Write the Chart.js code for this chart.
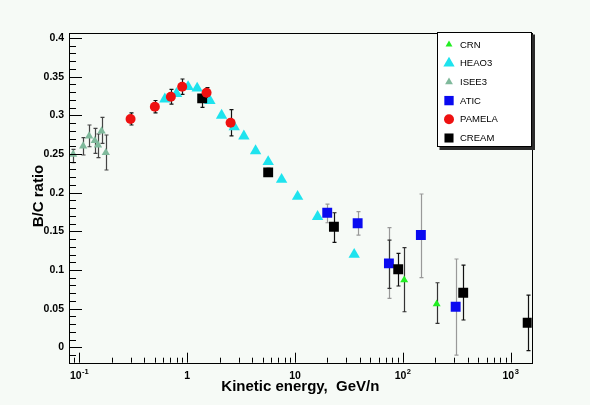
<!DOCTYPE html>
<html lang="en">
<head>
    <meta charset="UTF-8">
    <title>B/C ratio vs kinetic energy</title>
    <script src="https://cdn.jsdelivr.net/npm/chart.js"></script>
    <style>
        body { margin: 0; background: #f6faf6; }
        canvas { display: block; }
    </style>
</head>
<body>
    <canvas id="bcChart" width="590" height="405"></canvas>

    <script>
        // kinetic energy (GeV/n), B/C ratio, error bar low / high
        const crnE = [103, 206];
        const crnBC = [0.087, 0.056];
        const crnLo = [0.046, 0.031];
        const crnHi = [0.129, 0.0835];

        const heao3E = [0.621, 0.797, 1.02, 1.238, 1.624, 2.085, 2.73, 3.357, 4.31, 5.64, 7.51, 10.57, 16.2, 35.4];
        const heao3BC = [0.321, 0.328, 0.337, 0.335, 0.319, 0.300, 0.285, 0.273, 0.254, 0.240, 0.217, 0.195, 0.169, 0.120];

        const isee3E = [0.0876, 0.1085, 0.1233, 0.139, 0.149, 0.1607, 0.176];
        const isee3BC = [0.2496, 0.2603, 0.2732, 0.2672, 0.2616, 0.2797, 0.2517];
        const isee3Lo = [0.2387, 0.2487, 0.2594, 0.2509, 0.2452, 0.2638, 0.2293];
        const isee3Hi = [0.2561, 0.2711, 0.2875, 0.2832, 0.2759, 0.2975, 0.2746];

        const aticE = [19.9, 38.1, 74.3, 147, 309];
        const aticBC = [0.1741, 0.1604, 0.1086, 0.1453, 0.0525];
        const aticLo = [0.1611, 0.1452, 0.0634, 0.090, -0.010];
        const aticHi = [0.1853, 0.1754, 0.1547, 0.1983, 0.1142];
        const aticLo2 = [null, null, 0.0763, null, null];
        const aticHi2 = [null, null, 0.1387, null, null];

        const pamelaE = [0.2985, 0.5016, 0.706, 0.899, 1.513, 2.527];
        const pamelaBC = [0.2953, 0.3112, 0.3241, 0.337, 0.3293, 0.2905];
        const pamelaLo = [0.2875, 0.3032, 0.3146, 0.327, 0.3228, 0.2735];
        const pamelaHi = [0.3031, 0.3192, 0.3336, 0.347, 0.3358, 0.3075];

        const creamE = [1.378, 5.64, 22.96, 90.6, 363, 1438];
        const creamBC = [0.322, 0.2263, 0.156, 0.1009, 0.0706, 0.0318];
        const creamLo = [0.3104, 0.2213, 0.1358, 0.0793, 0.0353, -0.0044];
        const creamHi = [0.3263, 0.2313, 0.174, 0.1216, 0.1064, 0.0676];

        const yTicks = [0, 0.05, 0.1, 0.15, 0.2, 0.25, 0.3, 0.35, 0.4];
        const yTickLabels = ['0', '0.05', '0.1', '0.15', '0.2', '0.25', '0.3', '0.35', '0.4'];
        const xTicks = [0.1, 1, 10, 100, 1000];
        const xTickBase = ['10', '1', '10', '10', '10'];
        const xTickExp = ['-1', '', '', '2', '3'];

        const FONT = '"Liberation Sans", Arial, sans-serif';

        const series = [
            { label: 'CRN', e: crnE, v: crnBC, style: 'triangle', r: 4.6, color: '#22ee22', lr: 4, bars: [[crnLo, crnHi, '#333']], order: 4 },
            { label: 'HEAO3', e: heao3E, v: heao3BC, style: 'triangle', r: 6.6, color: '#1ee3ee', lr: 6.5, bars: [], order: 5 },
            { label: 'ISEE3', e: isee3E, v: isee3BC, style: 'triangle', r: 4.8, color: '#7fb99b', lr: 4.5, bars: [[isee3Lo, isee3Hi, '#444']], order: 6 },
            { label: 'ATIC', e: aticE, v: aticBC, style: 'rect', r: 7, color: '#0a0af0', lr: 6.6, bars: [[aticLo, aticHi, '#999'], [aticLo2, aticHi2, '#333']], order: 3 },
            { label: 'PAMELA', e: pamelaE, v: pamelaBC, style: 'circle', r: 5, color: '#ee1111', lr: 5, bars: [[pamelaLo, pamelaHi, '#111']], order: 1 },
            { label: 'CREAM', e: creamE, v: creamBC, style: 'rect', r: 7, color: '#000000', lr: 6.4, bars: [[creamLo, creamHi, '#111']], order: 2 }
        ];

        function marker(ctx, style, x, y, r, color) {
            ctx.fillStyle = color;
            ctx.beginPath();
            if (style === 'triangle') {
                for (let k = 0; k < 3; k++) {
                    const a = k * 2 * Math.PI / 3;
                    const px = x + Math.sin(a) * r, py = y - Math.cos(a) * r;
                    k ? ctx.lineTo(px, py) : ctx.moveTo(px, py);
                }
                ctx.closePath();
            } else if (style === 'rect') {
                const s = r * Math.SQRT1_2;
                ctx.rect(x - s, y - s, 2 * s, 2 * s);
            } else {
                ctx.arc(x, y, r, 0, 2 * Math.PI);
            }
            ctx.fill();
        }

        const decor = {
            id: 'decor',
            beforeDatasetsDraw(chart) {
                const { ctx, scales: { x, y } } = chart;
                ctx.save();
                ctx.lineWidth = 1.2;
                series.forEach(s => {
                    s.bars.forEach(([lo, hi, col]) => {
                        ctx.strokeStyle = col;
                        s.e.forEach((e, i) => {
                            if (lo[i] == null) return;
                            const px = Math.round(x.getPixelForValue(e)) + 0.5;
                            const y1 = y.getPixelForValue(lo[i]);
                            const y2 = y.getPixelForValue(hi[i]);
                            ctx.beginPath();
                            ctx.moveTo(px, y1); ctx.lineTo(px, y2);
                            ctx.moveTo(px - 2, y1); ctx.lineTo(px + 2, y1);
                            ctx.moveTo(px - 2, y2); ctx.lineTo(px + 2, y2);
                            ctx.stroke();
                        });
                    });
                });
                ctx.restore();
            },
            afterDraw(chart) {
                const { ctx, chartArea: a, scales: { x, y } } = chart;
                ctx.save();
                ctx.strokeStyle = '#000';
                ctx.lineWidth = 1;

                // frame
                ctx.strokeRect(Math.round(a.left) + 0.5, Math.round(a.top) + 0.5,
                    Math.round(a.right - a.left), Math.round(a.bottom - a.top));

                // y ticks (inside)
                ctx.beginPath();
                for (let k = -1; k <= 40; k++) {
                    const v = k / 100;
                    const py = Math.round(y.getPixelForValue(v)) + 0.5;
                    if (py < a.top || py > a.bottom) continue;
                    const len = k % 5 === 0 ? 13 : 7;
                    ctx.moveTo(a.left, py); ctx.lineTo(a.left + len, py);
                }
                // x ticks (inside, log)
                for (let d = -2; d <= 3; d++) {
                    for (let m = 1; m <= 9; m++) {
                        const v = m * Math.pow(10, d);
                        const px = Math.round(x.getPixelForValue(v)) + 0.5;
                        if (px < a.left + 1 || px > a.right - 1) continue;
                        const len = m === 1 ? 10 : 5;
                        ctx.moveTo(px, a.bottom); ctx.lineTo(px, a.bottom - len);
                    }
                }
                ctx.stroke();

                // x tick labels
                ctx.fillStyle = '#000';
                ctx.textBaseline = 'alphabetic';
                ctx.textAlign = 'left';
                xTicks.forEach((v, i) => {
                    const px = x.getPixelForValue(v);
                    ctx.font = 'bold 10.5px ' + FONT;
                    const wb = ctx.measureText(xTickBase[i]).width;
                    ctx.font = 'bold 7.5px ' + FONT;
                    const we = xTickExp[i] ? ctx.measureText(xTickExp[i]).width + 0.5 : 0;
                    const x0 = px - (wb + we) / 2;
                    ctx.font = 'bold 10.5px ' + FONT;
                    ctx.fillText(xTickBase[i], x0, 379);
                    if (xTickExp[i]) {
                        ctx.font = 'bold 7.5px ' + FONT;
                        ctx.fillText(xTickExp[i], x0 + wb + 0.5, 374);
                    }
                });

                // axis titles
                ctx.font = 'bold 15px ' + FONT;
                ctx.textAlign = 'center';
                ctx.fillText('Kinetic energy,  GeV/n', (a.left + a.right) / 2, 391);
                ctx.save();
                ctx.translate(42.5, 196);
                ctx.rotate(-Math.PI / 2);
                ctx.fillText('B/C ratio', 0, 0);
                ctx.restore();

                // legend box
                const lx = 437.5, ly = 32.5, lw = 94, lh = 114;
                ctx.fillStyle = '#2a2a2a';
                ctx.fillRect(lx + 2, ly + 2, lw + 1.5, lh + 1.5);
                ctx.fillStyle = '#ffffff';
                ctx.fillRect(lx, ly, lw, lh);
                ctx.strokeRect(lx, ly, lw, lh);
                ctx.font = '9.5px ' + FONT;
                ctx.textAlign = 'left';
                ctx.textBaseline = 'middle';
                series.forEach((s, i) => {
                    const cy = 44.5 + i * 18.7;
                    marker(ctx, s.style, 449, cy, s.lr, s.color);
                    ctx.fillStyle = '#000';
                    ctx.fillText(s.label, 460, cy + 0.5);
                });
                ctx.restore();
            }
        };

        const ctx = document.getElementById('bcChart').getContext('2d');

        const chart = new Chart(ctx, {
            type: 'scatter',
            data: {
                datasets: series.map(s => ({
                    label: s.label,
                    data: s.e.map((e, i) => ({ x: e, y: s.v[i] })),
                    pointStyle: s.style,
                    pointRadius: s.r,
                    pointBackgroundColor: s.color,
                    pointBorderColor: s.color,
                    pointBorderWidth: 0,
                    showLine: false,
                    order: s.order
                }))
            },
            options: {
                responsive: false,
                animation: false,
                devicePixelRatio: 1,
                layout: { padding: { left: 0, top: 33, right: 58.3, bottom: 0 } },
                plugins: {
                    legend: { display: false },
                    tooltip: { enabled: false }
                },
                scales: {
                    x: {
                        type: 'logarithmic',
                        min: 0.0802,
                        max: 1567,
                        grid: { display: false, drawTicks: false },
                        border: { display: false },
                        ticks: { display: false },
                        afterFit: s => { s.height = 42.3; }
                    },
                    y: {
                        min: -0.0199,
                        max: 0.4065,
                        grid: { display: false, drawTicks: false },
                        border: { display: false },
                        afterBuildTicks: s => { s.ticks = yTicks.map(v => ({ value: v })); },
                        afterFit: s => { s.width = 69; },
                        ticks: {
                            padding: 5,
                            color: '#000',
                            font: { family: FONT, size: 10.5, weight: 'bold' },
                            callback: (v, i) => yTickLabels[i]
                        }
                    }
                }
            },
            plugins: [decor]
        });
    </script>
</body>
</html>
